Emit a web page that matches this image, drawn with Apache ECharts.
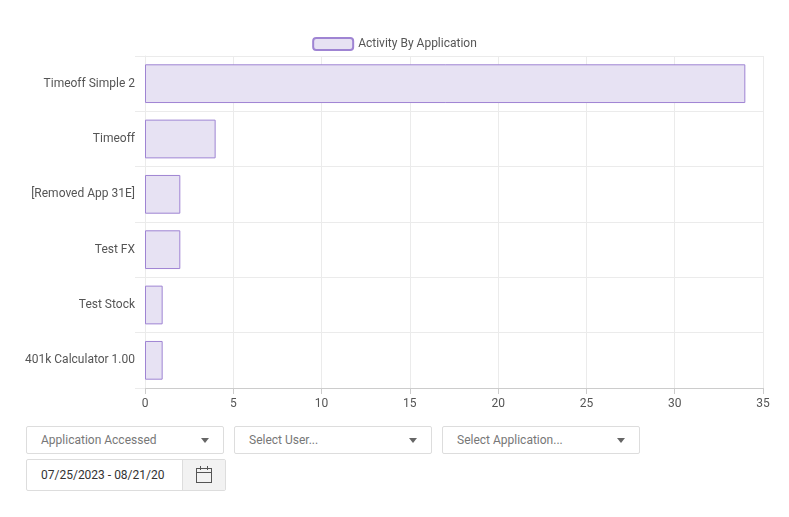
<!DOCTYPE html>
<html><head><meta charset="utf-8">
<script src="https://cdn.jsdelivr.net/npm/echarts@6/dist/echarts.min.js"></script>
<style>
body{margin:0;width:789px;height:517px;font-family:Roboto,sans-serif;background:#fff;position:relative;overflow:hidden}
#c{position:absolute;left:0;top:0;width:789px;height:420px}
.sel{position:absolute;top:426px;height:28px;width:198px;border:1px solid #ddd;border-radius:2px;box-sizing:border-box;font-size:12px;color:#777;line-height:26px;padding-left:14px}
.sel:after{content:"";position:absolute;right:14px;top:11px;border-left:4px solid transparent;border-right:4px solid transparent;border-top:5px solid #666}
.date{position:absolute;left:26px;top:459px;width:200px;height:32px;border:1px solid #ddd;border-radius:2px;box-sizing:border-box;font-size:12px;color:#333;line-height:30px;padding-left:14px;overflow:hidden}
.btn{position:absolute;right:0;top:0;width:42px;height:30px;background:#f2f2f2;border-left:1px solid #ddd}
</style></head><body>
<div id="c"></div>
<div class="sel" style="left:26px">Application Accessed</div>
<div class="sel" style="left:234px">Select User...</div>
<div class="sel" style="left:442px">Select Application...</div>
<div class="date">07/25/2023 - 08/21/20<div class="btn">
<svg width="42" height="30"><rect x="13.5" y="8.5" width="15" height="14" fill="none" stroke="#555"/><line x1="13.5" y1="12.5" x2="28.5" y2="12.5" stroke="#555"/><line x1="17.5" y1="6" x2="17.5" y2="10" stroke="#555"/><line x1="24.5" y1="6" x2="24.5" y2="10" stroke="#555"/></svg></div></div>
<script>
const categories=["Timeoff Simple 2","Timeoff","[Removed App 31E]","Test FX","Test Stock","401k Calculator 1.00"];
const values=[34,4,2,2,1,1];
const seriesName="Activity By Application";
const xTicks={min:0,max:35,interval:5};
const ch=echarts.init(document.getElementById('c'));
ch.setOption({
 animation:false,
 textStyle:{fontFamily:'Roboto'},
 legend:{top:32,itemWidth:40,itemHeight:12,textStyle:{color:'#555',fontSize:12},data:[seriesName]},
 grid:{left:145,right:26,top:56,bottom:32,containLabel:false},
 xAxis:{type:'value',min:xTicks.min,max:xTicks.max,interval:xTicks.interval,
  axisLine:{show:true,lineStyle:{color:'#ccc'}},axisTick:{show:true,length:6,lineStyle:{color:'#ccc'}},
  axisLabel:{color:'#555',fontSize:12,margin:10},splitLine:{lineStyle:{color:'#ebebeb'}}},
 yAxis:{type:'category',inverse:true,data:categories,
  axisLine:{show:true,lineStyle:{color:'#ebebeb'}},axisTick:{show:true,length:10,lineStyle:{color:'#ebebeb'}},
  axisLabel:{color:'#555',fontSize:12,margin:10},splitLine:{show:true,lineStyle:{color:'#ebebeb'}}},
 series:[{name:seriesName,type:'bar',data:values,barCategoryGap:'30%',
  itemStyle:{color:'#e7e2f3',borderColor:'#9f84d3',borderWidth:1}}]
});
</script></body></html>
